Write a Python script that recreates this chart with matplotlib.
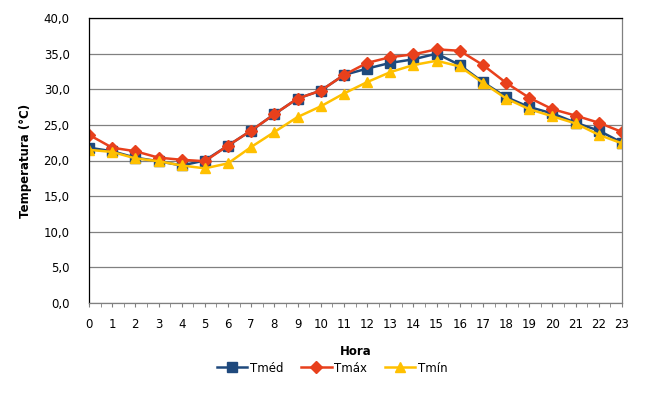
import numpy as np
import matplotlib
matplotlib.use('Agg')
import matplotlib.pyplot as plt
from matplotlib.ticker import MultipleLocator, FuncFormatter

# hourly temperatures (°C)
horas = list(range(24))
t_med = [21.8, 21.3, 20.4, 19.9, 19.3, 20.0, 22.1, 24.2, 26.5, 28.7, 29.8, 32.0,
         32.9, 33.7, 34.2, 35.0, 33.4, 31.0, 28.9, 27.5, 26.6, 25.3, 24.2, 22.5]
t_max = [23.6, 21.8, 21.3, 20.4, 20.1, 19.9, 22.1, 24.2, 26.5, 28.7, 29.8, 32.0,
         33.7, 34.5, 34.9, 35.6, 35.4, 33.4, 30.9, 28.8, 27.2, 26.3, 25.3, 24.0]
t_min = [21.5, 21.2, 20.3, 19.9, 19.3, 18.9, 19.6, 21.9, 24.0, 26.1, 27.6, 29.4,
         31.0, 32.4, 33.4, 34.0, 33.2, 30.9, 28.7, 27.2, 26.2, 25.2, 23.6, 22.4]

plt.rcParams['font.family'] = ['DejaVu Sans']

fig = plt.figure(figsize=(6.64, 4.03), dpi=100)
ax = fig.add_axes([89 / 664, 1 - 303 / 403, 533 / 664, 285 / 403])

ax.plot(horas, t_med, color='#1F497D', lw=1.8, marker='s', ms=6.5, label='Tméd')
ax.plot(horas, t_max, color='#E8401C', lw=1.8, marker='D', ms=6, label='Tmáx')
ax.plot(horas, t_min, color='#FFC000', lw=1.8, marker='^', ms=7.5, label='Tmín')

ax.set_xlim(0, 23)
ax.set_ylim(0, 40)
ax.xaxis.set_major_locator(MultipleLocator(1))
ax.xaxis.set_minor_locator(MultipleLocator(0.5))
ax.yaxis.set_major_locator(MultipleLocator(5))
ax.yaxis.set_major_formatter(FuncFormatter(lambda v, p: f'{v:.1f}'.replace('.', ',')))

ax.grid(axis='y', color='#808080', lw=0.9)
ax.set_axisbelow(True)
ax.tick_params(axis='y', length=0, pad=14, labelsize=8.5)
ax.tick_params(axis='x', which='both', length=3, color='#808080', direction='out',
               labelsize=8.5, pad=8)

ax.spines['left'].set_color('black')
ax.spines['top'].set_color('black')
ax.spines['bottom'].set_color('#808080')
ax.spines['right'].set_color('#808080')
for s in ax.spines.values():
    s.set_linewidth(0.9)

ax.set_xlabel('Hora', fontsize=8.5, fontweight='bold', labelpad=10)
ax.set_ylabel('Temperatura (°C)', fontsize=8.5, fontweight='bold', labelpad=8)

fig.legend(loc='center', bbox_to_anchor=(332 / 664, 1 - 368 / 403), ncol=3,
           frameon=False, fontsize=8.5, handlelength=2.6, columnspacing=1.5,
           handletextpad=0.2)

fig.savefig('out.png', dpi=100)
